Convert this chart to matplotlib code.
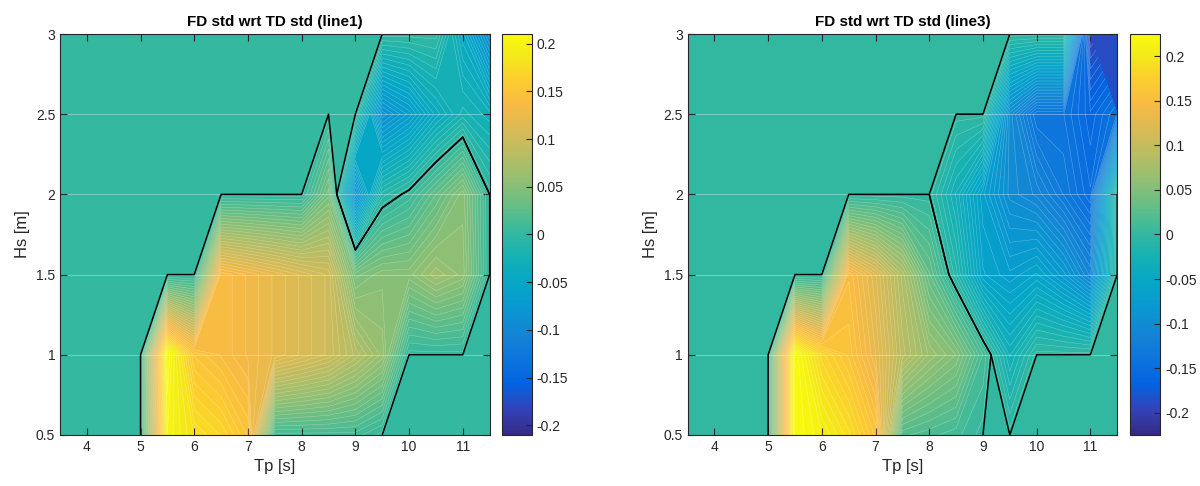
import numpy as np
import matplotlib
matplotlib.use("Agg")
import matplotlib.pyplot as plt
from matplotlib.colors import LinearSegmentedColormap, Normalize
from matplotlib.cm import ScalarMappable

plt.rcParams["font.family"] = ["Liberation Sans", "DejaVu Sans"]

# grid of sea states
tp = [3.5, 4, 4.5, 5, 5.5, 6, 6.5, 7, 7.5, 8, 8.5, 9, 9.5, 10, 10.5, 11, 11.5]
hs = [0.5, 1, 1.5, 2, 2.5, 3]

# relative difference FD std vs TD std, rows = Hs, cols = Tp
line1 = [
    [0, 0, 0, 0, 0.20, 0.18, 0.17, 0.15, 0.01, 0.01, 0.01, 0.01, 0, 0, 0, 0, 0],
    [0, 0, 0, 0, 0.21, 0.15, 0.14, 0.13, 0.12, 0.11, 0.10, 0.08, 0.06, 0, 0, 0, 0],
    [0, 0, 0, 0, 0, 0, 0.14, 0.13, 0.12, 0.11, 0.10, 0.04, 0.05, 0.05, 0.065, 0.055, 0],
    [0, 0, 0, 0, 0, 0, 0, 0, 0, 0, 0.04, -0.09, -0.01, 0.004, 0.027, 0.05, 0],
    [0, 0, 0, 0, 0, 0, 0, 0, 0, 0, 0, 0, -0.09, -0.07, -0.04, -0.02, -0.03],
    [0, 0, 0, 0, 0, 0, 0, 0, 0, 0, 0, 0, 0, 0, 0, -0.045, -0.095],
]
line3 = [
    [0, 0, 0, 0, 0.225, 0.21, 0.19, 0.16, 0.02, 0.015, 0.01, 0, 0, 0, 0, 0, 0],
    [0, 0, 0, 0, 0.225, 0.18, 0.16, 0.13, 0.09, 0.065, 0.05, 0.013, -0.03, 0, 0, 0, 0],
    [0, 0, 0, 0, 0, 0, 0.15, 0.12, 0.08, 0.03, -0.011, -0.06, -0.07, -0.06, -0.08, -0.11, 0],
    [0, 0, 0, 0, 0, 0, 0, 0, 0, 0, -0.03, -0.07, -0.10, -0.11, -0.13, -0.15, 0],
    [0, 0, 0, 0, 0, 0, 0, 0, 0, 0, 0, 0, -0.10, -0.14, -0.14, -0.16, -0.14],
    [0, 0, 0, 0, 0, 0, 0, 0, 0, 0, 0, 0, 0, 0, 0, -0.20, np.nan],
]
titles = ["FD std wrt TD std (line1)", "FD std wrt TD std (line3)"]

# MATLAB parula, sampled
parula_pts = [
    (0, (0.2081, 0.1663, 0.5292)), (4, (0.1959, 0.2645, 0.7279)),
    (8, (0.0117, 0.3875, 0.8820)), (12, (0.0498, 0.4586, 0.8641)),
    (16, (0.0793, 0.5200, 0.8312)), (20, (0.0343, 0.5966, 0.8199)),
    (24, (0.0228, 0.6535, 0.7768)), (28, (0.0843, 0.6928, 0.7062)),
    (32, (0.2178, 0.7250, 0.6193)), (36, (0.3953, 0.7459, 0.5244)),
    (40, (0.5709, 0.7485, 0.4494)), (44, (0.7184, 0.7411, 0.3905)),
    (48, (0.8507, 0.7299, 0.3360)), (52, (0.9739, 0.7314, 0.2666)),
    (56, (0.9880, 0.8066, 0.1794)), (60, (0.9598, 0.9218, 0.0948)),
    (63, (0.9763, 0.9831, 0.0538)),
]
parula = LinearSegmentedColormap.from_list("parula", [(i / 63, c) for i, c in parula_pts])

fig = plt.figure(figsize=(12, 4.86), dpi=100)
ax_pos = [[0.050, 0.105, 0.358, 0.825], [0.573, 0.105, 0.358, 0.825]]
cb_pos = [[0.418, 0.105, 0.025, 0.825], [0.942, 0.105, 0.025, 0.825]]

for k, data in enumerate([line1, line3]):
    z = np.ma.masked_invalid(np.array(data, dtype=float))
    lim = float(np.abs(z).max())
    levels = np.linspace(-lim, lim, 86)
    norm = Normalize(-lim, lim)

    ax = fig.add_axes(ax_pos[k])
    ax.set_facecolor(parula(0.08))
    X, Y = np.meshgrid(tp, hs)
    ax.contourf(X, Y, z, levels=levels, cmap=parula, norm=norm)
    ax.contour(X, Y, z, levels=levels, colors="white", linewidths=0.4,
               alpha=0.3, linestyles="solid")
    ax.contour(X, Y, z, levels=[-1e-6, 1e-6], colors="black", linewidths=1.1,
               linestyles="solid")

    ax.set_xlim(3.5, 11.5)
    ax.set_ylim(0.5, 3)
    ax.set_xticks(range(4, 12))
    ax.set_yticks(hs)
    ax.set_yticklabels(["0.5", "1", "1.5", "2", "2.5", "3"])
    ax.yaxis.grid(True, color="white", alpha=0.35, linewidth=0.7)
    ax.tick_params(direction="in", top=True, right=True, length=5,
                   labelsize=10, colors="#262626")
    for s in ax.spines.values():
        s.set_color("#262626")
        s.set_linewidth(0.8)
    ax.set_xlabel("Tp [s]", fontsize=12, color="#262626")
    ax.set_ylabel("Hs [m]", fontsize=12, color="#262626")
    ax.set_title(titles[k], fontsize=11, fontweight="bold", pad=6)

    cax = fig.add_axes(cb_pos[k])
    cb = fig.colorbar(ScalarMappable(norm=norm, cmap=parula), cax=cax)
    cb.set_ticks(np.arange(-0.2, 0.201, 0.05))
    cb.ax.yaxis.set_major_formatter(
        plt.FuncFormatter(lambda v, p: "%g" % (round(v, 2) + 0.0)))
    cb.ax.tick_params(direction="in", length=4, labelsize=10, colors="#262626")
    cb.outline.set_edgecolor("#262626")
    cb.outline.set_linewidth(0.8)

fig.savefig("out.png", dpi=100)
